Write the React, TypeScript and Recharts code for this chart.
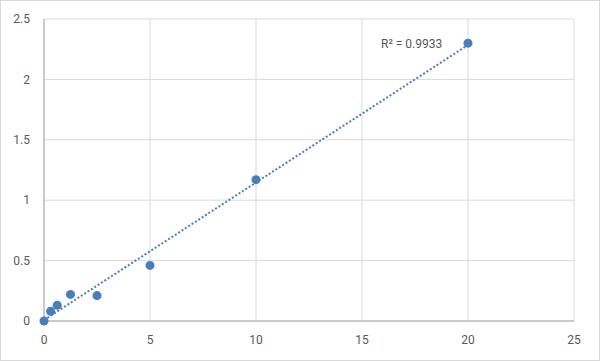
import {
  CartesianGrid,
  Scatter,
  ScatterChart,
  XAxis,
  YAxis,
  ZAxis,
} from 'recharts'

const concentraciones = [0, 0.3125, 0.625, 1.25, 2.5, 5, 10, 20]
const densidades = [0, 0.08, 0.13, 0.22, 0.21, 0.46, 1.17, 2.3]
const ticksX = [0, 5, 10, 15, 20, 25]
const ticksY = [0, 0.5, 1, 1.5, 2, 2.5]
const tendenciaX = [0, 20]
const tendenciaY = [0.008, 2.285]
const etiquetaR2 = 'R² = 0.9933'

const puntos = concentraciones.map((x, i) => ({ x, y: densidades[i] }))
const tendencia = tendenciaX.map((x, i) => ({ x, y: tendenciaY[i] }))

const azul = '#4a7ebb'
const texto = '#595959'

export default function App() {
  return (
    <div
      style={{
        position: 'fixed',
        left: 0,
        top: 0,
        width: 600,
        height: 361,
        boxSizing: 'border-box',
        border: '1px solid #d9d9d9',
        background: '#fff',
        fontFamily: 'Roboto, sans-serif',
      }}
    >
      <ScatterChart
        width={598}
        height={359}
        margin={{ top: 18, right: 25, bottom: 8, left: 13 }}
      >
        <CartesianGrid stroke="#d9d9d9" strokeWidth={1} />
        <XAxis
          type="number"
          dataKey="x"
          domain={[0, 25]}
          ticks={ticksX}
          tickLine={false}
          tickSize={0}
          tickMargin={14}
          height={31}
          axisLine={{ stroke: '#bfbfbf', strokeWidth: 1.5 }}
          tick={{ fontSize: 12, fill: texto }}
        />
        <YAxis
          type="number"
          dataKey="y"
          domain={[0, 2.5]}
          ticks={ticksY}
          tickLine={false}
          tickSize={0}
          tickMargin={14}
          width={30}
          axisLine={{ stroke: '#bfbfbf', strokeWidth: 1.5 }}
          tick={{ fontSize: 12, fill: texto }}
        />
        <ZAxis range={[72, 72]} />
        <Scatter
          data={tendencia}
          line={{ stroke: azul, strokeWidth: 2, strokeDasharray: '2 2' }}
          shape={() => <g />}
          isAnimationActive={false}
        />
        <Scatter data={puntos} fill={azul} isAnimationActive={false} />
      </ScatterChart>
      <div
        style={{
          position: 'absolute',
          left: 380,
          top: 36,
          fontSize: 12,
          color: texto,
          whiteSpace: 'nowrap',
        }}
      >
        {etiquetaR2}
      </div>
    </div>
  )
}
